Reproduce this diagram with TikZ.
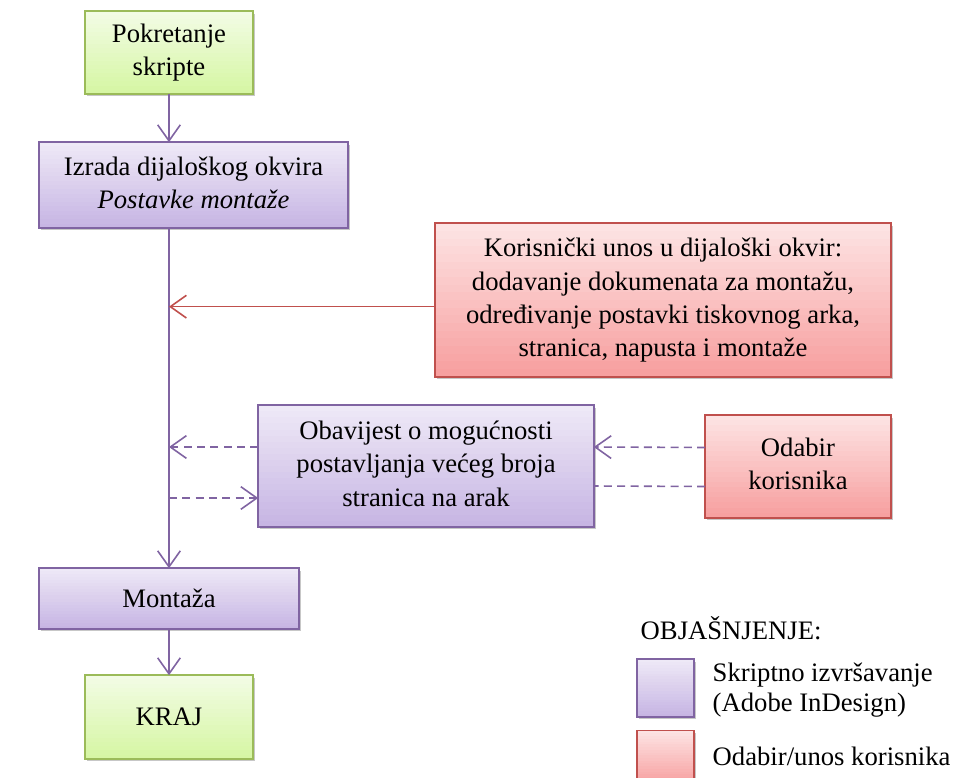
\documentclass[tikz,border=0pt]{standalone}
\usepackage{fontspec}
\setmainfont{Liberation Serif}
\usetikzlibrary{arrows.meta,backgrounds,calc}
\definecolor{ljubicasta}{HTML}{8064A2}
\definecolor{crvena}{HTML}{C0504D}
\definecolor{zelena}{HTML}{9BBB59}
\definecolor{ljgore}{HTML}{EFEAF7}
\definecolor{ljdolje}{HTML}{C6B4E3}
\definecolor{crgore}{HTML}{FDE5E5}
\definecolor{crdolje}{HTML}{F79E9E}
\definecolor{zegore}{HTML}{F3FCE6}
\definecolor{zedolje}{HTML}{D5F6A2}
\tikzset{
  tekst/.style={font=\fontsize{20}{25}\selectfont},
  kutija/.style={inner sep=0pt,outer sep=0.6pt},
  tok/.style={line width=1.2pt,draw=ljubicasta},
  isprekidano/.style={dash pattern=on 6pt off 4pt},
}
\newcommand{\redovi}[1]{\begin{tabular}{@{}c@{}}#1\end{tabular}}
% sjena, prijelaz boje (u trakama) i rub iza kutije
\newcommand{\podloga}[4]{%
  \fill[black!22] ([xshift=1.5pt,yshift=-2pt]#1.south west) rectangle ([xshift=1.5pt,yshift=-2pt]#1.north east);
  \foreach \i in {0,...,19}{
    \pgfmathsetmacro\udio{97.5-5*\i}
    \pgfmathsetmacro\gore{\i/20}
    \pgfmathsetmacro\dolje{min(1,(\i+1.15)/20)}
    \fill[#2!\udio!#3] ($(#1.north west)!\gore!(#1.south west)$) rectangle ($(#1.north east)!\dolje!(#1.south east)$);}
  \draw[#4,line width=1.2pt] (#1.south west) rectangle (#1.north east);}
\begin{document}
\begin{tikzpicture}[x=0.75pt,y=-0.75pt,>={Straight Barb[length=12pt,width=17pt]}]
	\useasboundingbox (0,0) rectangle (954,778);
	% kutije
	\node[kutija,minimum width=124.5pt,minimum height=60.75pt] (start) at (169,52.5) {};
	\node[kutija,minimum width=230.25pt,minimum height=63pt] (dijalog) at (193.5,185) {};
	\node[kutija,minimum width=340.5pt,minimum height=114pt] (unos) at (663,300) {};
	\node[kutija,minimum width=250.5pt,minimum height=90pt] (obavijest) at (426,466) {};
	\node[kutija,minimum width=138pt,minimum height=75.75pt] (odabir) at (798,466.5) {};
	\node[kutija,minimum width=193.5pt,minimum height=44.25pt] (montaza) at (169,598.5) {};
	\node[kutija,minimum width=124.5pt,minimum height=61.5pt] (kraj) at (169,717) {};
	\node[kutija,minimum width=41.25pt,minimum height=42pt] (lskripta) at (665.5,688) {};
	\node[kutija,minimum width=41.25pt,minimum height=40pt] (lkorisnik) at (665.5,758) {};
	% tekstovi
	\node[tekst] (tstart) at (start) {\redovi{Pokretanje\\skripte}};
	\node[tekst] (tdijalog) at (dijalog) {\redovi{Izrada dijaloškog okvira\\\textit{Postavke montaže}}};
	\node[tekst] (tunos) at (unos) {\redovi{Korisnički unos u dijaloški okvir:\\dodavanje dokumenata za montažu,\\određivanje postavki tiskovnog arka,\\stranica, napusta i montaže}};
	\node[tekst] (tobavijest) at (obavijest) {\redovi{Obavijest o mogućnosti\\postavljanja većeg broja\\stranica na arak}};
	\node[tekst] (todabir) at (odabir) {\redovi{Odabir\\korisnika}};
	\node[tekst] (tmontaza) at (montaza) {Montaža};
	\node[tekst] (tkraj) at (kraj) {KRAJ};
	% legenda
	\node[anchor=west,tekst] (naslov) at (636,628) {OBJAŠNJENJE:};
	\node[anchor=west,align=left,font=\fontsize{20}{22}\selectfont] (tskripta) at (708,690) {Skriptno izvršavanje\\(Adobe InDesign)};
	\node[anchor=west,tekst] (tkorisnik) at (708,756) {Odabir/unos korisnika};
	\begin{scope}[on background layer]
		\foreach \k in {start,kraj}{\podloga{\k}{zegore}{zedolje}{zelena}}
		\foreach \k in {dijalog,obavijest,montaza,lskripta}{\podloga{\k}{ljgore}{ljdolje}{ljubicasta}}
		\foreach \k in {unos,odabir,lkorisnik}{\podloga{\k}{crgore}{crdolje}{crvena}}
	\end{scope}
	% veze
	\draw[tok,->] (start.south) -- (dijalog.north -| start.south);
	\draw[tok,->] (dijalog.south -| montaza.north) -- (montaza.north);
	\draw[tok,->] (montaza.south) -- (kraj.north);
	\draw[line width=1.2pt,crvena,->] ([yshift=-5pt]unos.west) -- ([yshift=-5pt]unos.west -| montaza.north);
	\draw[tok,isprekidano,->] ([yshift=14.25pt]obavijest.west) -- ([yshift=14.25pt]obavijest.west -| montaza.north);
	\draw[tok,isprekidano,->] ([yshift=-24pt]obavijest.west -| montaza.north) -- ([yshift=-24pt]obavijest.west);
	\draw[tok,isprekidano,->] ([yshift=14.25pt]odabir.west) -- ([yshift=14.25pt]obavijest.east);
	\draw[tok,isprekidano] ([yshift=-15pt]odabir.west) -- ([yshift=-15pt]obavijest.east);
\end{tikzpicture}
\end{document}
